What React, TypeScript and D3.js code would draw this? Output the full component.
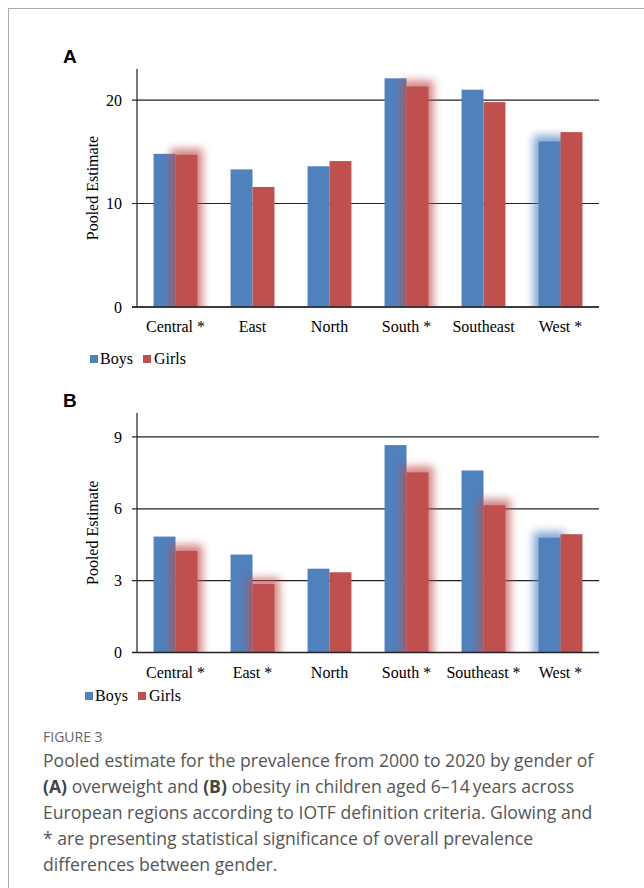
import * as d3 from "d3";
import React from "react";

// regions on the x axis
const regions = ["Central", "East", "North", "South", "Southeast", "West"];
const labelsA = ["Central *", "East", "North", "South *", "Southeast", "West *"];
const labelsB = ["Central *", "East *", "North", "South *", "Southeast *", "West *"];

// (A) overweight
const boysA = [14.8, 13.3, 13.6, 22.1, 21.0, 16.0];
const girlsA = [14.7, 11.6, 14.1, 21.3, 19.8, 16.9];
const glowA = ["girls", "", "", "girls", "", "boys"];
const ticksA = [0, 10, 20];

// (B) obesity
const boysB = [4.84, 4.09, 3.5, 8.66, 7.6, 4.79];
const girlsB = [4.24, 2.86, 3.35, 7.52, 6.15, 4.94];
const glowB = ["girls", "girls", "", "girls", "girls", "boys"];
const ticksB = [0, 3, 6, 9];

const series = ["Boys", "Girls"];
const colors = { boys: "#4f81bd", girls: "#c0504d" };

const caption = [
  "Pooled estimate for the prevalence from 2000 to 2020 by gender of",
  "|(A)| overweight and |(B)| obesity in children aged 6\u201314\u2009years across",
  "European regions according to IOTF definition criteria. Glowing and",
  "* are presenting statistical significance of overall prevalence",
  "differences between gender.",
];

const serif = "'Liberation Serif', 'Times New Roman', serif";
const sans = "'Open Sans', 'Noto Sans', sans-serif";

function Panel({ id, letter, letterY, labels, boys, girls, glow, yMax, ticks, top, bottom, legendX, legendY }) {
  const left = 137;
  const right = 599;
  const x0 = d3.scaleBand(regions, [left, right]).paddingInner(0.43).paddingOuter(0.215);
  const x1 = d3.scaleBand(["boys", "girls"], [0, x0.bandwidth()]);
  const y = d3.scaleLinear([0, yMax], [bottom, top]);
  const bw = x1.bandwidth();

  const rows = regions.map((r, i) => ({ r, i, boys: boys[i], girls: girls[i], glow: glow[i] }));

  const glowRect = (d, key) => {
    const v = d[key];
    return (
      <rect
        key={`g-${key}-${d.r}`}
        x={x0(d.r) + x1(key) - 5}
        y={y(v) - 6}
        width={bw + 10}
        height={bottom - y(v) + 12}
        fill={colors[key]}
        opacity={0.7}
        filter={`url(#blur-${id})`}
      />
    );
  };

  return (
    <g>
      <defs>
        <filter id={`blur-${id}`} x="-60%" y="-20%" width="220%" height="140%">
          <feGaussianBlur stdDeviation="4.5" />
        </filter>
        <clipPath id={`clip-${id}`}>
          <rect x={left - 40} y={top - 40} width={right - left + 80} height={bottom - top + 40} />
        </clipPath>
      </defs>

      <text x={63} y={letterY} fontFamily="'Liberation Sans', Arial, sans-serif" fontWeight="bold" fontSize={19}>
        {letter}
      </text>

      {/* gridlines */}
      {ticks.map((t) => (
        <line key={t} x1={left - 5} x2={right} y1={y(t)} y2={y(t)} stroke="#222" strokeWidth={1.2} />
      ))}

      <g clipPath={`url(#clip-${id})`}>
        {rows.filter((d) => d.glow === "boys").map((d) => glowRect(d, "boys"))}
        {rows.map((d) => (
          <rect key={`b-${d.r}`} x={x0(d.r) + x1("boys")} y={y(d.boys)} width={bw} height={bottom - y(d.boys)} fill={colors.boys} />
        ))}
        {rows.filter((d) => d.glow === "girls").map((d) => glowRect(d, "girls"))}
        {rows.map((d) => (
          <rect key={`r-${d.r}`} x={x0(d.r) + x1("girls")} y={y(d.girls)} width={bw} height={bottom - y(d.girls)} fill={colors.girls} />
        ))}
      </g>

      {/* axes */}
      <line x1={left} x2={left} y1={top} y2={bottom} stroke="#222" strokeWidth={1.2} />
      <line x1={left - 5} x2={right} y1={bottom} y2={bottom} stroke="#222" strokeWidth={1.4} />
      {ticks.map((t) => (
        <text key={t} x={left - 15} y={y(t)} dy="0.35em" textAnchor="end" fontFamily={serif} fontSize={16}>
          {t}
        </text>
      ))}
      {regions.map((r, i) => (
        <text key={r} x={x0(r) + x0.bandwidth() / 2} y={bottom + 25} textAnchor="middle" fontFamily={serif} fontSize={16}>
          {labels[i]}
        </text>
      ))}
      <text
        transform={`translate(98,${(top + bottom) / 2}) rotate(-90)`}
        textAnchor="middle"
        fontFamily={serif}
        fontSize={16}
      >
        Pooled Estimate
      </text>

      {/* legend */}
      <rect x={legendX} y={legendY - 8} width={8} height={8} fill={colors.boys} />
      <text x={legendX + 10} y={legendY + 1} fontFamily={serif} fontSize={16}>{series[0]}</text>
      <rect x={legendX + 53} y={legendY - 8} width={8} height={8} fill={colors.girls} />
      <text x={legendX + 64} y={legendY + 1} fontFamily={serif} fontSize={16}>{series[1]}</text>
    </g>
  );
}

export default function App() {
  return (
    <div style={{ position: "absolute", left: 0, top: 0 }}>
      <svg width={644} height={888} viewBox="0 0 644 888" style={{ display: "block", background: "#fff" }}>
        <line x1={9} x2={644} y1={8.5} y2={8.5} stroke="#aaa" />
        <line x1={8.5} x2={8.5} y1={8} y2={888} stroke="#aaa" />

        <Panel
          id="a" letter="A" letterY={63}
          labels={labelsA} boys={boysA} girls={girlsA} glow={glowA}
          yMax={23} ticks={ticksA} top={69} bottom={307}
          legendX={90} legendY={363}
        />
        <Panel
          id="b" letter="B" letterY={407}
          labels={labelsB} boys={boysB} girls={girlsB} glow={glowB}
          yMax={10} ticks={ticksB} top={413} bottom={652.5}
          legendX={85} legendY={700}
        />

        <text x={43} y={742} fontFamily={sans} fontSize={14} fill="#666">FIGURE 3</text>
        {caption.map((line, i) => (
          <text key={i} x={43} y={767 + i * 26} fontFamily={sans} fontSize={17.6} fill="#555">
            {line.split("|").map((part, j) => (
              <tspan key={j} fontWeight={j % 2 === 1 ? 700 : 400} fill={j % 2 === 1 ? "#444" : "#555"}>
                {part}
              </tspan>
            ))}
          </text>
        ))}
      </svg>
    </div>
  );
}
